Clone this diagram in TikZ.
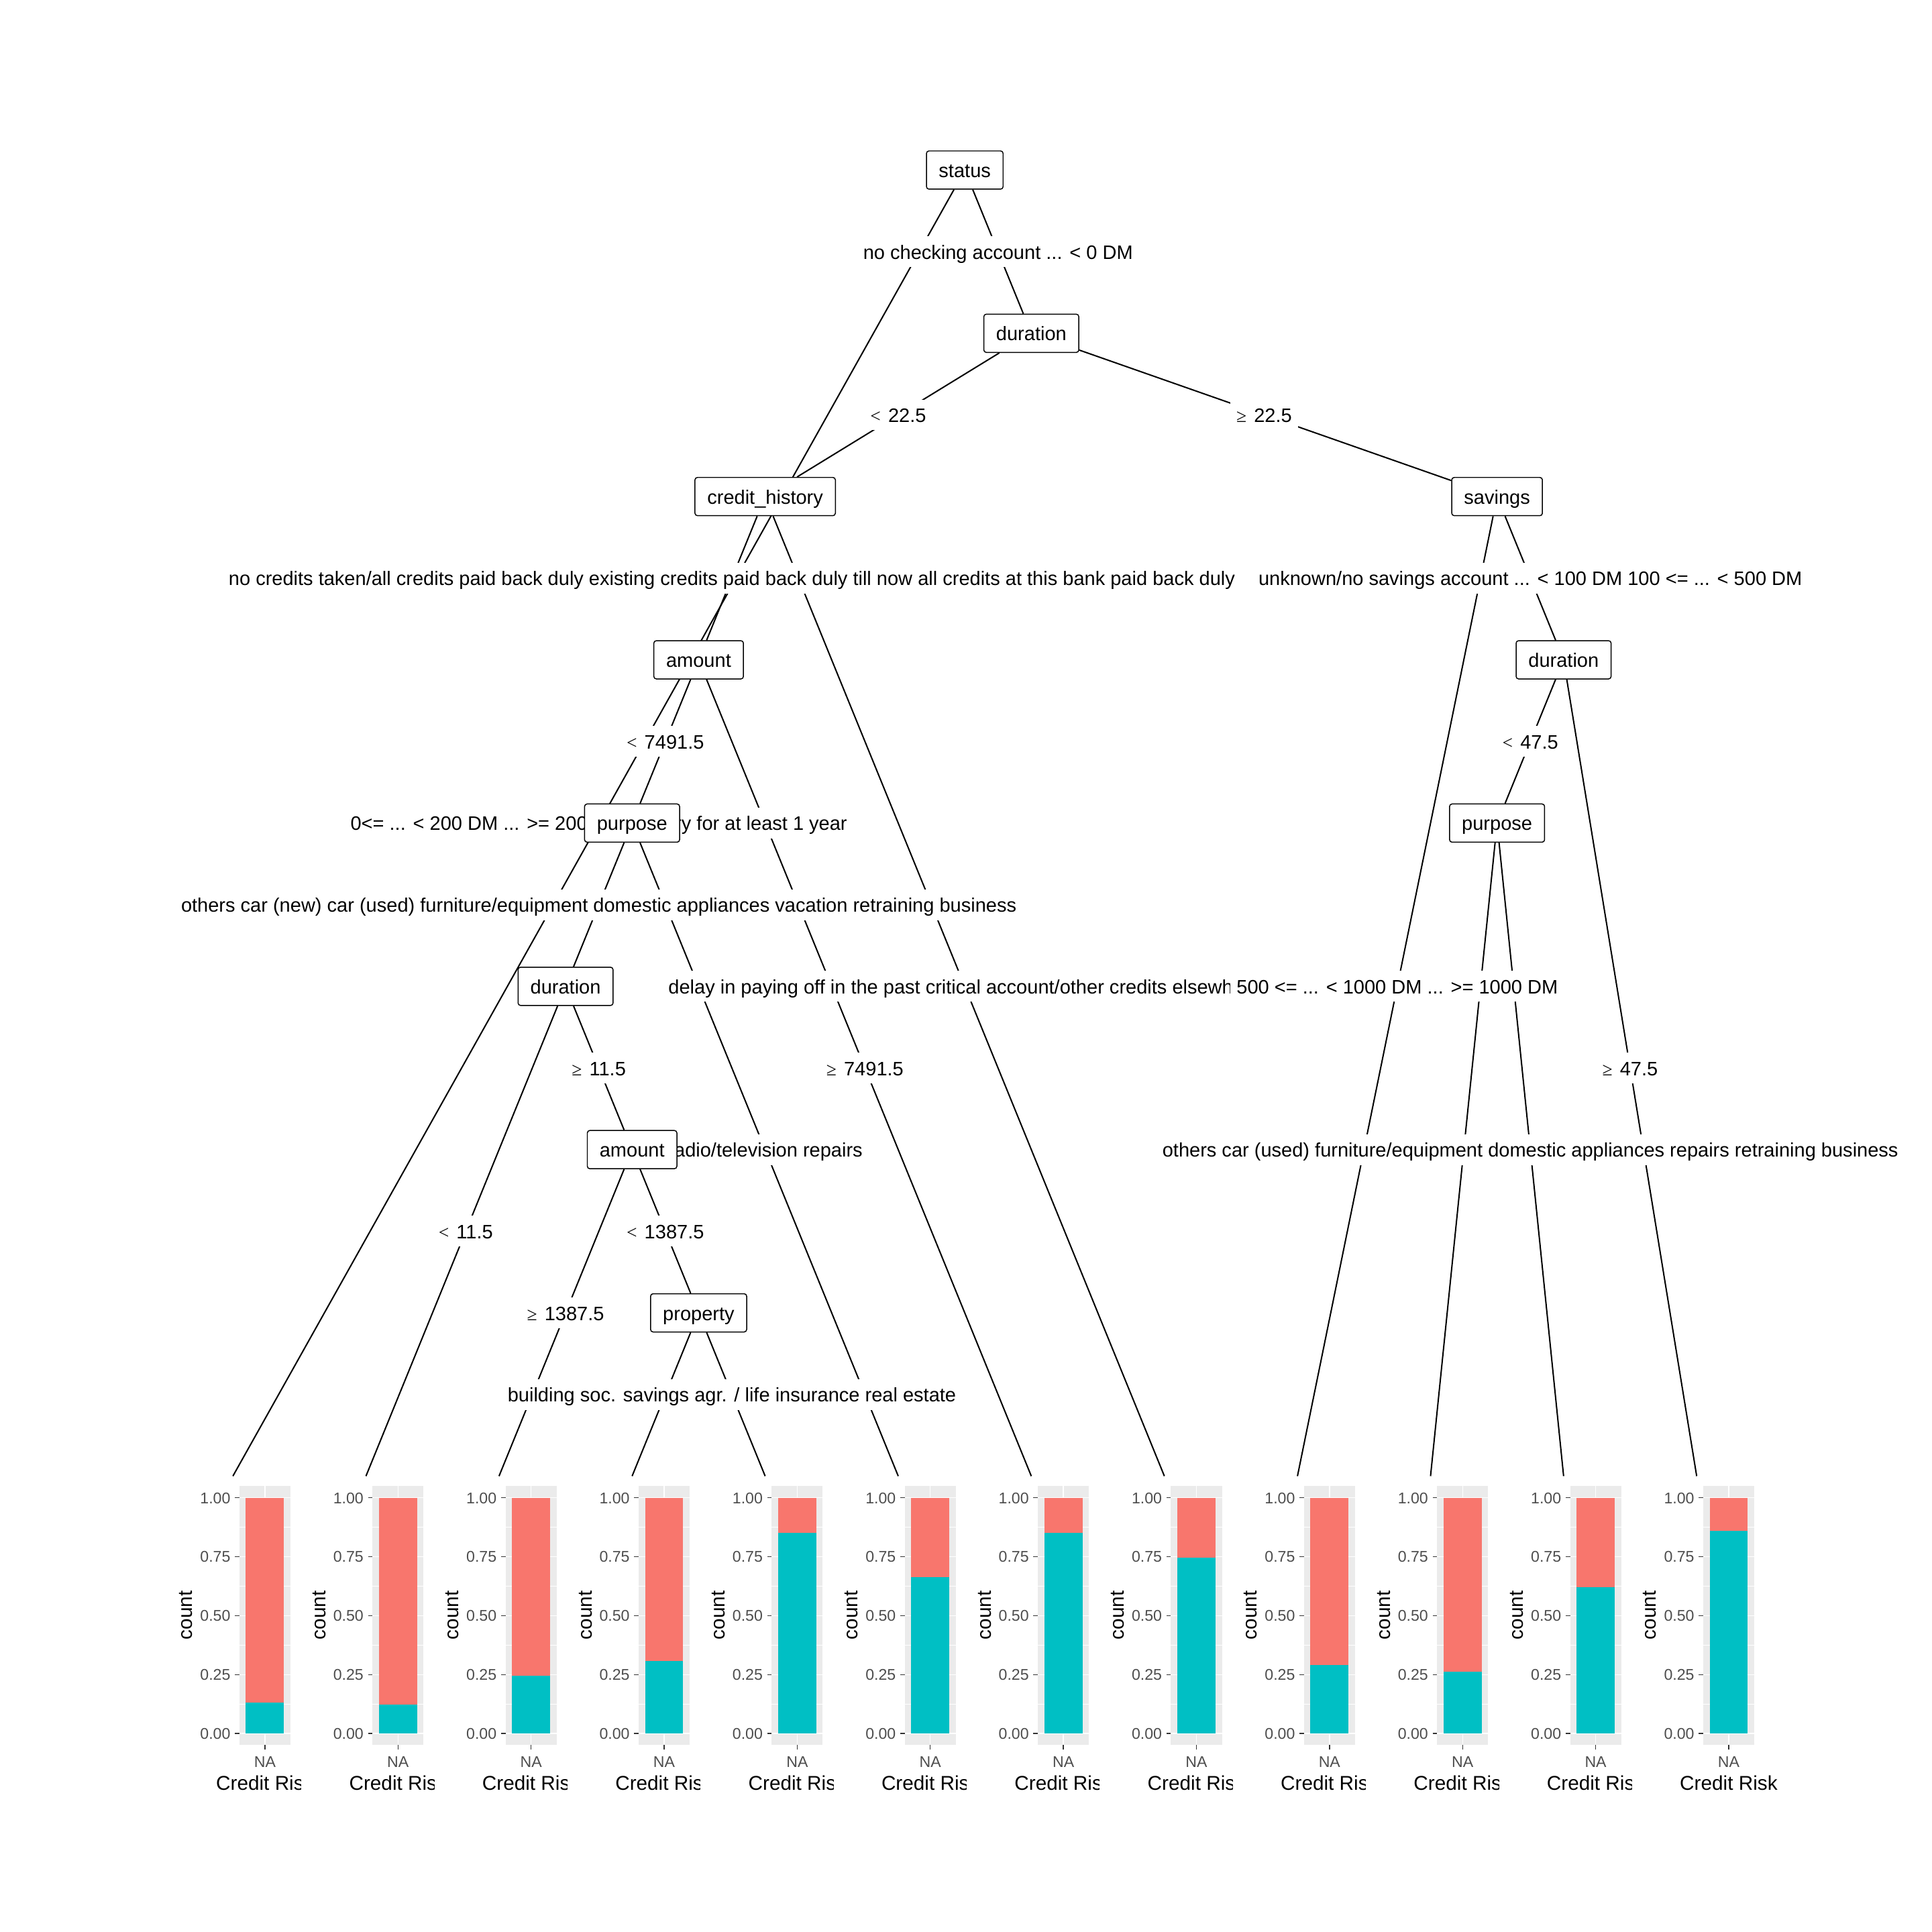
\documentclass[tikz,border=0pt]{standalone}
\usepackage{fontspec}
\setmainfont{Liberation Sans}
\newfontfamily\symf{Liberation Serif}
\usetikzlibrary{calc}
\pgfdeclarelayer{edgelayer}
\pgfdeclarelayer{labellayer}
\pgfsetlayers{edgelayer,labellayer,main}
\definecolor{barred}{HTML}{F8766D}
\definecolor{barteal}{HTML}{00BFC4}
\definecolor{panelgrey}{HTML}{EBEBEB}
\definecolor{axgrey}{HTML}{4D4D4D}
\definecolor{tickgrey}{HTML}{333333}
\newcommand{\lblfont}{\fontsize{15.8}{18}\selectfont}
\newcommand{\axfont}{\fontsize{12.6}{14}\selectfont}
\newcommand{\ttlfont}{\fontsize{16.2}{18}\selectfont}
\newcommand{\relsym}[1]{{\symf\fontsize{15}{16}\selectfont #1}\hspace{6pt}}

\tikzset{
  edge/.style={line width=1.1pt, black},
  elab/.style={fill=white, inner xsep=5pt, inner ysep=0pt, text height=15.3pt, text depth=3.3pt, minimum height=25pt, font=\lblfont},
  nbox/.style={draw=black, line width=0.8pt, rounded corners=2pt, fill=white, inner xsep=10pt, inner ysep=0pt, text height=15.3pt, text depth=3.3pt, minimum height=31pt, font=\lblfont},
  axtxt/.style={font=\axfont, text=axgrey, inner sep=0pt, text height=9pt, text depth=0pt},
  ttl/.style={font=\ttlfont, text=black, inner sep=0pt, text height=11.6pt, text depth=0pt},
  cnt/.style={font=\ttlfont, text=black, inner sep=0pt, text height=8.4pt, text depth=0pt, rotate=90},
  majg/.style={white, line width=0.7pt},
  ming/.style={white, line width=0.35pt},
  tickl/.style={tickgrey, line width=0.7pt}
}

\newcommand{\leafplot}[4]{%
\begin{scope}[shift={(#2,0)}]
 \fill[panelgrey] (-20.7,1206) rectangle (20.7,1416.1);
 \foreach \v in {0.125,0.375,0.625,0.875}
   \draw[ming] (-20.7,{1406.9-191.3*\v}) -- (20.7,{1406.9-191.3*\v});
 \foreach \v in {0,0.25,0.5,0.75,1}
   \draw[majg] (-20.7,{1406.9-191.3*\v}) -- (20.7,{1406.9-191.3*\v});
 \draw[majg] (0,1206) -- (0,1416.1);
 \fill[barteal] (-15.5,1406.9) rectangle (15.5,{1406.9-191.3*#3});
 \fill[barred] (-15.5,{1406.9-191.3*#3}) rectangle (15.5,1215.6);
 \foreach \v/\t [count=\k] in {0/0.00,0.25/0.25,0.5/0.50,0.75/0.75,1/1.00} {
   \draw[tickl] (-24.3,{1406.9-191.3*\v}) -- (-20.7,{1406.9-191.3*\v});
   \node[axtxt, anchor=east] (p#1y\k) at (-27.8,{1406.9-191.3*\v}) {\t};
 }
 \draw[tickl] (0,1416.1) -- (0,1419.8);
 \node[axtxt] (p#1na) at (0,1429.8) {NA};
 \node[cnt] (p#1cnt) at (-63,1311) {count};
 \ifnum#4=1
   \begin{scope}
     \clip (-90,1430) rectangle (29.3,1470);
     \node[ttl] (p#1xt) at (0,1447) {Credit Risk};
   \end{scope}
 \else
   \node[ttl] (p#1xt) at (0,1447) {Credit Risk};
 \fi
\end{scope}}

\begin{document}
\begin{tikzpicture}[x=1pt,y=-1pt]
\useasboundingbox (0,0) rectangle (1568,1568);

% inner nodes
\node[nbox] (nA) at (783,138) {status};
\node[nbox] (nB) at (837,270.5) {duration};
\node[nbox] (nC) at (621,403) {credit\_history};
\node[nbox] (nD) at (1215,403) {savings};
\node[nbox] (nE) at (567,535.5) {amount};
\node[nbox] (nF) at (1269,535.5) {duration};
\node[nbox] (nG) at (513,668) {purpose};
\node[nbox] (nH) at (1215,668) {purpose};
\node[nbox] (nI) at (459,800.5) {duration};
\node[nbox] (nJ) at (513,933) {amount};
\node[nbox] (nK) at (567,1065.5) {property};
\foreach \i in {1,...,12} \coordinate (L\i) at ({189+108*(\i-1)},1198);

% edges
\begin{pgfonlayer}{edgelayer}
\draw[edge] (nA) -- (L1);
\draw[edge] (nA) -- (nB);
\draw[edge] (nB) -- (nC);
\draw[edge] (nB) -- (nD);
\draw[edge] (nC) -- (nE);
\draw[edge] (nC) -- (L8);
\draw[edge] (nE) -- (nG);
\draw[edge] (nE) -- (L7);
\draw[edge] (nG) -- (nI);
\draw[edge] (nG) -- (L6);
\draw[edge] (nI) -- (L2);
\draw[edge] (nI) -- (nJ);
\draw[edge] (nJ) -- (nK);
\draw[edge] (nJ) -- (L3);
\draw[edge] (nK) -- (L4);
\draw[edge] (nK) -- (L5);
\draw[edge] (nD) -- (nF);
\draw[edge] (nD) -- (L9);
\draw[edge] (nF) -- (nH);
\draw[edge] (nF) -- (L12);
\draw[edge] (nH) -- (L10);
\draw[edge] (nH) -- (L11);
\end{pgfonlayer}

% edge labels
\begin{pgfonlayer}{labellayer}
\node[elab] (eAL1) at ($(nA)!.5!(L1)$) {0<= ... < 200 DM ... >= 200 DM / salary for at least 1 year};
\node[elab] (eAB) at ($(nA)!.5!(nB)$) {no checking account ... < 0 DM};
\node[elab] (eBC) at ($(nB)!.5!(nC)$) {\relsym{<}22.5};
\node[elab] (eBD) at ($(nB)!.5!(nD)$) {\relsym{≥}22.5};
\node[elab] (eCE) at ($(nC)!.5!(nE)$) {no credits taken/all credits paid back duly existing credits paid back duly till now all credits at this bank paid back duly};
\node[elab] (eCL8) at ($(nC)!.5!(L8)$) {delay in paying off in the past critical account/other credits elsewhere};
\node[elab] (eEG) at ($(nE)!.5!(nG)$) {\relsym{<}7491.5};
\node[elab] (eEL7) at ($(nE)!.5!(L7)$) {\relsym{≥}7491.5};
\node[elab] (eGI) at ($(nG)!.5!(nI)$) {others car (new) car (used) furniture/equipment domestic appliances vacation retraining business};
\node[elab] (eGL6) at ($(nG)!.5!(L6)$) {radio/television repairs};
\node[elab] (eIL2) at ($(nI)!.5!(L2)$) {\relsym{<}11.5};
\node[elab] (eIJ) at ($(nI)!.5!(nJ)$) {\relsym{≥}11.5};
\node[elab] (eJK) at ($(nJ)!.5!(nK)$) {\relsym{<}1387.5};
\node[elab] (eJL3) at ($(nJ)!.5!(L3)$) {\relsym{≥}1387.5};
\node[elab] (eKL5) at ($(nK)!.5!(L5)$) {building soc. savings agr. / life insurance real estate};
\node[elab] (eDF) at ($(nD)!.5!(nF)$) {unknown/no savings account ... < 100 DM 100 <= ... < 500 DM};
\node[elab] (eDL9) at ($(nD)!.5!(L9)$) {500 <= ... < 1000 DM ... >= 1000 DM};
\node[elab] (eFH) at ($(nF)!.5!(nH)$) {\relsym{<}47.5};
\node[elab] (eFL12) at ($(nF)!.5!(L12)$) {\relsym{≥}47.5};
\node[elab] (eHL11) at ($(nH)!.5!(L11)$) {others car (used) furniture/equipment domestic appliances repairs retraining business};
\end{pgfonlayer}

% terminal plots
\leafplot{1}{215}{0.132}{1}
\leafplot{2}{323}{0.124}{1}
\leafplot{3}{431}{0.245}{1}
\leafplot{4}{539}{0.308}{1}
\leafplot{5}{647}{0.851}{1}
\leafplot{6}{755}{0.663}{1}
\leafplot{7}{863}{0.851}{1}
\leafplot{8}{971}{0.747}{1}
\leafplot{9}{1079}{0.292}{1}
\leafplot{10}{1187}{0.261}{1}
\leafplot{11}{1295}{0.621}{1}
\leafplot{12}{1403}{0.860}{0}
\end{tikzpicture}
\end{document}
